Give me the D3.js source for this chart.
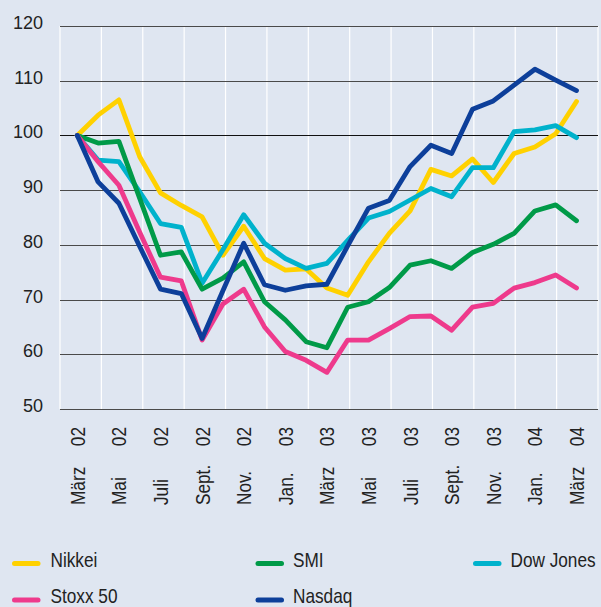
<!DOCTYPE html>
<html><head><meta charset="utf-8">
<script src="https://cdn.jsdelivr.net/npm/d3@7"></script>
<style>
html,body{margin:0;padding:0;background:#dfe6f1;}
svg{display:block;}
</style></head>
<body>
<svg id="chart" width="601" height="607"></svg>
<script>
// ---- data ----
const months = ["März","Apr","Mai","Juni","Juli","Aug","Sept.","Okt","Nov.","Dez","Jan.","Feb","März","Apr","Mai","Juni","Juli","Aug","Sept.","Okt","Nov.","Dez","Jan.","Feb","März"];
const tickMonths = ["März","Mai","Juli","Sept.","Nov.","Jan.","März","Mai","Juli","Sept.","Nov.","Jan.","März"];
const tickYears  = ["02","02","02","02","02","03","03","03","03","03","03","04","04"];
const yTicks = [50,60,70,80,90,100,110,120];

const nikkei = [100,103.7,106.5,96.1,89.5,87.2,85.1,78.1,83.4,77.5,75.4,75.6,72.1,70.8,76.9,82.1,86.2,93.8,92.6,95.7,91.4,96.7,97.9,100.3,106.2];
const smi    = [100,98.6,98.9,88.5,78.1,78.7,71.9,73.9,76.9,69.6,66.3,62.3,61.2,68.6,69.6,72.2,76.3,77.1,75.7,78.6,80.1,82.1,86.2,87.3,84.4];
const dow    = [100,95.5,95.2,89.7,83.9,83.2,73.0,79.1,85.5,80.3,77.5,75.7,76.6,80.8,84.9,86.1,88.2,90.3,88.8,94.1,94.1,100.7,101.0,101.8,99.6];
const stoxx  = [100,95.2,90.9,82.3,74.1,73.4,62.6,69.2,71.9,65.0,60.5,58.9,56.7,62.6,62.6,64.7,66.9,67.0,64.4,68.6,69.3,72.1,73.1,74.5,72.1];
const nasdaq = [100,91.5,87.6,79.7,71.9,71.1,62.9,71.6,80.3,72.7,71.7,72.5,72.8,79.8,86.7,88.1,94.3,98.2,96.7,104.8,106.3,109.2,112.1,110.1,108.2];

const seriesNames  = ["Nikkei","SMI","Dow Jones","Stoxx 50","Nasdaq"];
const seriesColors = ["#ffd100","#009a48","#00b2cc","#ee3a8c","#0d3f9a"];
const seriesValues = [nikkei, smi, dow, stoxx, nasdaq];

// ---- layout ----
const svg = d3.select("#chart");
svg.append("rect").attr("width",601).attr("height",607).attr("fill","#dfe6f1");

const plotL = 60, plotR = 598, plotT = 26, plotB = 409;
const x = d3.scaleLinear().domain([0, months.length - 1]).range([77.3, 576.5]);
const y = d3.scaleLinear().domain([50,120]).range([plotB, plotT]);
const band = d3.scaleBand().domain(d3.range(tickMonths.length)).range([plotL, plotR]);

const sans = "'Liberation Sans',Arial,sans-serif";
const squeeze = 0.82;

// vertical white grid lines
const vlines = d3.range(tickMonths.length + 1).map(k => k === tickMonths.length ? plotR : band(k));
svg.append("g").selectAll("line").data(vlines).join("line")
  .attr("x1", d => d).attr("x2", d => d).attr("y1", plotT).attr("y2", plotB)
  .attr("stroke","#ffffff").attr("stroke-width",1.2);

// horizontal grid lines
svg.append("g").selectAll("line").data(yTicks).join("line")
  .attr("x1", plotL).attr("x2", plotR)
  .attr("y1", d => Math.round(y(d)) + 0.5).attr("y2", d => Math.round(y(d)) + 0.5)
  .attr("stroke", d => d === 100 ? "#111" : "#4a4a4a").attr("stroke-width",1.2);

// y labels
svg.append("g").selectAll("text").data(yTicks).join("text")
  .attr("x", 43).attr("y", d => y(d) + 3)
  .attr("text-anchor","end")
  .attr("font-family", sans).attr("font-size",18)
  .attr("fill","#222").text(d => d);

// x labels
const xl = svg.append("g").attr("font-family", sans).attr("font-size",21).attr("fill","#222");
tickMonths.forEach((m, k) => {
  const cx = x(k * 2);
  xl.append("text")
    .attr("transform", `translate(${cx},505) rotate(-90) scale(${squeeze},1)`)
    .attr("dy","0.36em").attr("text-anchor","start").text(m);
  xl.append("text")
    .attr("transform", `translate(${cx},427) rotate(-90) scale(${squeeze},1)`)
    .attr("dy","0.36em").attr("text-anchor","end").text(tickYears[k]);
});

// lines
const line = d3.line().x((d,i) => x(i)).y(d => y(d));
const order = [0,2,1,3,4];
svg.append("g").selectAll("path").data(order).join("path")
  .attr("d", i => line(seriesValues[i]))
  .attr("fill","none").attr("stroke", i => seriesColors[i])
  .attr("stroke-width",4.8).attr("stroke-linejoin","round").attr("stroke-linecap","round");

// legend
const legendPos = [
  {sx:12.5, tx:50.5, y:563.5},
  {sx:256, tx:293, y:563.5},
  {sx:473.5, tx:510.5, y:563.5},
  {sx:12.5, tx:50.5, y:600},
  {sx:256, tx:293, y:600}
];
const lg = svg.append("g");
seriesNames.forEach((n, i) => {
  const p = legendPos[i];
  lg.append("line").attr("x1", p.sx + 2).attr("x2", p.sx + 25.5)
    .attr("y1", p.y).attr("y2", p.y)
    .attr("stroke", seriesColors[i]).attr("stroke-width",5).attr("stroke-linecap","round");
  lg.append("text").attr("transform", `translate(${p.tx},${p.y + 3}) scale(${squeeze},1)`)
    .attr("font-family", sans).attr("font-size",21).attr("fill","#222").text(n);
});
</script>
</body></html>
